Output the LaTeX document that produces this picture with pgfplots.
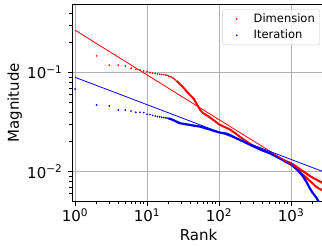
\documentclass[border=0pt]{standalone}
\usepackage{pgfplots}
\pgfplotsset{compat=1.18}
\usepackage{fontspec}
\setmainfont{DejaVu Sans}
\begin{document}
\fontsize{15bp}{18bp}\selectfont
\begin{tikzpicture}
\begin{axis}[
  xmode=log, ymode=log,
  scale only axis, width=253bp, height=197.7bp,
  at={(0,0)}, anchor=south west,
  xmin=0.91, xmax=2960,
  ymin=0.00497, ymax=0.494,
  xtick={1,10,100,1000},
  xticklabels={10\textsuperscript{0},10\textsuperscript{1},10\textsuperscript{2},10\textsuperscript{3}},
  ytick={0.01,0.1},
  yticklabels={10\textsuperscript{−2},10\textsuperscript{−1}},
  minor xtick={2,3,4,5,6,7,8,9,20,30,40,50,60,70,80,90,200,300,400,500,600,700,800,900,2000},
  minor ytick={0.006,0.007,0.008,0.009,0.02,0.03,0.04,0.05,0.06,0.07,0.08,0.09,0.2,0.3,0.4},
  xtick pos=bottom, ytick pos=left,
  tick align=outside,
  major tick length=4.5bp, minor tick length=2.6bp,
  every tick/.style={black, line width=0.8bp},
  axis line style={line width=0.8bp},
  grid=major,
  major grid style={color=black!30, line width=0.8bp},
  ticklabel style={font=\fontsize{15bp}{18bp}\selectfont},
  xticklabel style={anchor=base, yshift=-15.1bp},
  label style={font=\fontsize{15bp}{18bp}\selectfont},
  xlabel={Rank}, ylabel={Magnitude},
  xlabel style={at={(axis description cs:0.5,-0.1973)}, anchor=base},
  ylabel style={at={(axis description cs:-0.2095,0.5)}, anchor=base},
  legend style={at={(1,1)}, anchor=north east, xshift=-5bp, yshift=-5.3bp,
    font=\fontsize{11.5bp}{14bp}\selectfont, draw=black!20, rounded corners=2bp,
    fill=white, fill opacity=0.8, text opacity=1, inner xsep=3bp, inner ysep=2bp,
    row sep=1.5bp},
  legend image code/.code={
    \path[draw=none, fill=none] (0bp,-1bp) rectangle (26bp,1bp);
    \draw[#1,mark=*,mark size=0.65bp,only marks] plot coordinates {(11bp,0bp)};
  },
  legend cell align=left,
]
% Dimension scatter
\addplot[only marks, mark=*, mark size=0.65bp, color=red] coordinates {
(2,0.148)(3,0.119)(4,0.119)(5,0.117)(6,0.111)(7,0.108)(8,0.106)(9,0.104)(10,0.102)
(11,0.100)(12,0.099)(13,0.098)(14,0.097)(15,0.0965)(16,0.096)(17,0.0955)(18,0.095)
(19,0.094)(20,0.0925)(21,0.0912)(22,0.090)(23,0.088)(24,0.086)(25,0.084)(26,0.082)
};
\addlegendentry{Dimension}
\addplot[forget plot, red, line width=2bp] coordinates {
(26,0.082)(28,0.078)(30,0.074)(33,0.069)(36,0.064)(40,0.059)(45,0.054)(50,0.047)
(55,0.042)(60,0.039)(70,0.0365)(80,0.034)(90,0.032)(100,0.030)(120,0.0282)
(140,0.0268)(170,0.0243)(200,0.0222)(250,0.0198)(300,0.0182)(400,0.0165)
(500,0.0154)(600,0.0145)(700,0.0137)(800,0.013)(1000,0.0122)(1200,0.0112)
(1400,0.0103)(1600,0.0097)(1800,0.0091)(2000,0.0087)(2200,0.0084)(2400,0.0081)
(2700,0.0078)(2960,0.0075)
};
\addplot[forget plot, red, line width=2bp] coordinates {
(800,0.0128)(1000,0.0118)(1200,0.0106)(1400,0.0096)(1600,0.0088)(1800,0.0081)
(2000,0.0076)(2200,0.0071)(2400,0.0068)(2700,0.0065)(2960,0.0062)
};
% Iteration scatter
\addplot[only marks, mark=*, mark size=0.65bp, color=blue] coordinates {
(1,0.0684)(2,0.0471)(3,0.0461)(4,0.042)(5,0.042)(6,0.041)(7,0.0398)(8,0.0398)
(9,0.0395)(10,0.038)(11,0.0378)(12,0.037)(13,0.0365)(14,0.036)(15,0.0358)
(16,0.0354)(17,0.0352)(18,0.035)(19,0.0348)(20,0.0345)
};
\addlegendentry{Iteration}
\addplot[forget plot, blue, line width=2.2bp] coordinates {
(20,0.0345)(23,0.0333)(26,0.0318)(29,0.0308)(34,0.0302)(40,0.0296)(47,0.029)
(55,0.0285)(65,0.0274)(75,0.0266)(90,0.0255)(103,0.0248)(128,0.0242)(142,0.0234)
(180,0.0215)(243,0.0194)(300,0.0180)(400,0.0164)(511,0.01535)(700,0.0136)
(1023,0.0117)(1250,0.0103)(1475,0.0089)(1650,0.0078)(1820,0.0068)(2000,0.0061)
(2270,0.0054)(2450,0.0049)(2700,0.0038)(2960,0.0028)
};
% fits
\addplot[forget plot, red, line width=0.8bp] coordinates {(1,0.269)(2960,0.00726)};
\addplot[forget plot, blue, line width=0.8bp] coordinates {(1,0.0899)(2960,0.00984)};
\end{axis}
\pgfresetboundingbox
\path[use as bounding box] (-72bp,-44.3bp) rectangle (250bp,201.7bp);
\end{tikzpicture}
\end{document}
